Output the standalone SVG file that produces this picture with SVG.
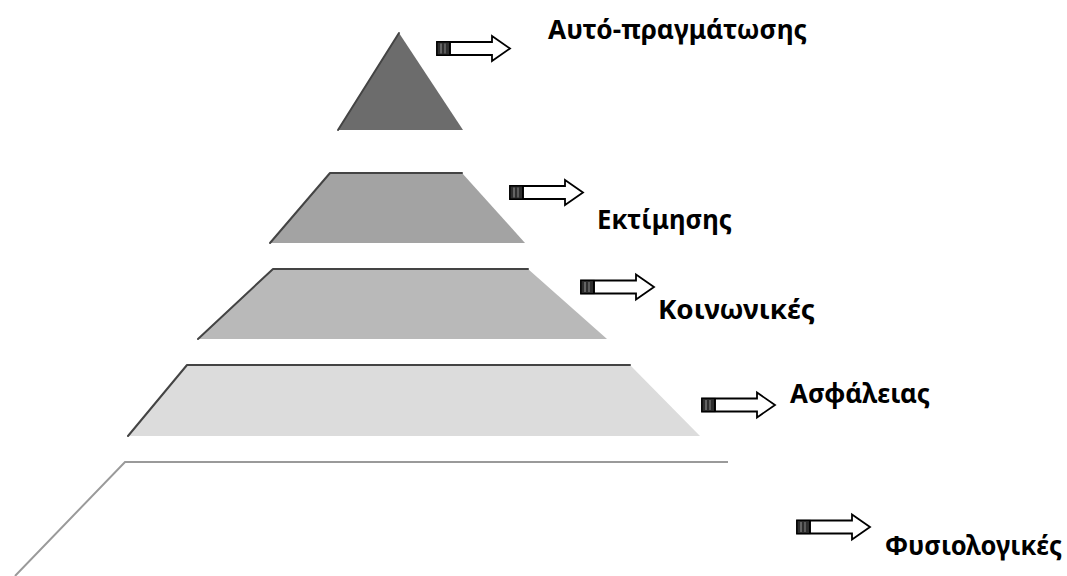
<svg xmlns="http://www.w3.org/2000/svg" width="1067" height="576" viewBox="0 0 1067 576">
<style>
.lbl{font-family:"Noto Sans","DejaVu Sans","Liberation Sans",sans-serif;font-weight:bold;font-size:26px;fill:#000}
.edge{fill:none;stroke:#444;stroke-width:2;stroke-linecap:round;stroke-linejoin:round}
.arrowbody{fill:#fff;stroke:#000;stroke-width:1.8;stroke-linejoin:miter}
</style>
<defs>
<g id="arrow">
<path class="arrowbody" d="M0,-6.5 H55 V-12.5 L73,0 L55,12.5 V6.5 H0 Z"/>
<rect x="0" y="-6.5" width="13" height="13" fill="#2e2e2e" stroke="#000" stroke-width="1.2"/>
<line x1="4" y1="-5" x2="4" y2="5" stroke="#999" stroke-width="1"/>
<line x1="8" y1="-5" x2="8" y2="5" stroke="#888" stroke-width="1"/>
<line x1="13" y1="-6.5" x2="13" y2="6.5" stroke="#000" stroke-width="1.8"/>
</g>
</defs>
<rect width="1067" height="576" fill="#fff"/>

<g id="level5-top">
<polygon points="399,33 463,130 338,130" fill="#6c6c6c"/>
<polyline class="edge" points="338,130 399,33" stroke="#333"/>
</g>
<g id="level4">
<polygon points="330,173 462,173 525,243 270,243" fill="#a3a3a3"/>
<polyline class="edge" points="270,243 330,173 462,173" stroke="#555"/>
</g>
<g id="level3">
<polygon points="273,269 528,269 607,339 198,339" fill="#b9b9b9"/>
<polyline class="edge" points="198,339 273,269 528,269" stroke="#4a4a4a"/>
</g>
<g id="level2">
<polygon points="187,365 630,365 700,436 128,436" fill="#dcdcdc"/>
<polyline class="edge" points="128,436 187,365 630,365" stroke="#666"/>
</g>
<g id="level1">
<polyline points="15,576 125,462 728,462" fill="none" stroke="#9a9a9a" stroke-width="2"/>
</g>

<g id="connectors">
<use href="#arrow" x="437" y="48.5"/>
<use href="#arrow" x="510" y="192.5"/>
<use href="#arrow" x="581" y="287"/>
<use href="#arrow" x="702" y="405"/>
<use href="#arrow" x="797" y="527"/>
</g>

<g id="label-self">
<text class="lbl" x="548" y="39" textLength="259" lengthAdjust="spacingAndGlyphs">Αυτό-πραγμάτωσης</text>
</g>
<g id="label-esteem">
<text class="lbl" x="597" y="229" textLength="135" lengthAdjust="spacingAndGlyphs">Εκτίμησης</text>
</g>
<g id="label-social">
<text class="lbl" x="658" y="319" textLength="157" lengthAdjust="spacingAndGlyphs">Κοινωνικές</text>
</g>
<g id="label-safety">
<text class="lbl" x="790" y="403" textLength="140" lengthAdjust="spacingAndGlyphs">Ασφάλειας</text>
</g>
<g id="label-phys">
<text class="lbl" x="885" y="555" textLength="177" lengthAdjust="spacingAndGlyphs">Φυσιολογικές</text>
</g>
</svg>
